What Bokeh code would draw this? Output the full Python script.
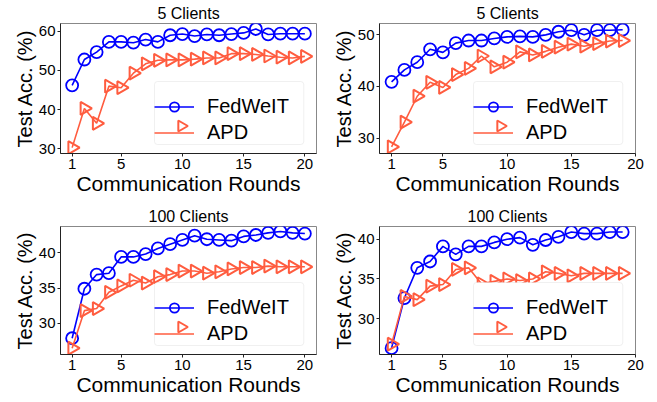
import numpy as np
from bokeh.plotting import figure
from bokeh.layouts import gridplot
from bokeh.models import Legend, LegendItem, Range1d, FixedTicker, BoxAnnotation
from bokeh.embed import file_html
from bokeh.resources import INLINE

FONT = "Liberation Sans"

# ---- data ----
rounds_20 = list(range(1, 21))
rounds_19 = list(range(1, 20))
x_ticks = [1, 5, 10, 15, 20]

titles = ["5 Clients", "5 Clients", "100 Clients", "100 Clients"]
series_names = ["FedWeIT", "APD"]

fedweit_tl = [46.2, 52.8, 54.7, 57.3, 57.3, 57.1, 57.9, 57.3, 59.0, 59.3,
              58.8, 59.2, 59.0, 59.3, 59.6, 60.6, 59.2, 59.4, 59.4, 59.4]
apd_tl = [30.3, 40.3, 36.5, 46.0, 45.6, 49.3, 51.7, 52.6, 52.7, 52.7,
          52.9, 53.2, 53.2, 54.3, 54.3, 54.1, 53.7, 53.4, 53.2, 53.6]

fedweit_tr = [40.9, 43.2, 44.7, 47.2, 46.6, 48.4, 48.9, 48.9, 49.3, 49.6,
              49.7, 49.6, 50.0, 50.6, 50.9, 50.0, 50.9, 50.9, 51.0]
apd_tr = [28.3, 33.1, 38.1, 40.8, 39.8, 42.3, 43.5, 45.9, 43.8, 44.7,
          46.7, 46.1, 46.8, 47.6, 48.2, 47.8, 48.3, 48.8, 48.9]

fedweit_bl = [27.9, 34.9, 36.9, 37.1, 39.4, 39.4, 39.8, 40.6, 41.2, 41.8,
              42.4, 41.9, 41.8, 41.7, 42.3, 42.5, 42.8, 43.0, 42.8, 42.7]
apd_bl = [26.5, 31.8, 32.1, 34.4, 35.3, 36.1, 35.7, 36.6, 36.9, 37.4,
          37.4, 37.1, 37.3, 37.7, 37.9, 37.9, 38.1, 38.0, 38.0, 38.0]

fedweit_br = [26.3, 32.6, 36.4, 37.2, 39.1, 38.1, 39.1, 39.1, 39.6, 40.0,
              40.2, 39.3, 39.9, 40.3, 40.9, 40.7, 40.7, 40.9, 40.9]
apd_br = [26.8, 32.8, 32.4, 34.1, 34.3, 36.2, 36.4, 34.4, 34.7, 35.0,
          34.8, 35.0, 35.9, 35.7, 35.4, 35.7, 35.7, 35.7, 35.7]

y_ticks_tl = [30, 40, 50, 60]
y_ticks_tr = [30, 40, 50]
y_ticks_bl = [30, 35, 40]
y_ticks_br = [30, 35, 40]

BLUE = "#0000ff"
ORANGE = "#ff5c3f"

FW = 256          # frame width (px)
LEG_X = 94        # legend left, px from frame left
LEG_Y = 9         # legend bottom, px from frame bottom
LEG_PAD = 7
LEG_GW = 40
LEG_ROW = 23
LEG_SP = 3
LEG_STAND = 13
LEG_FS = 20
LEG_W = 2 * LEG_PAD + LEG_GW + LEG_STAND + 4.112 * LEG_FS
LEG_H = 2 * LEG_PAD + 2 * LEG_ROW + LEG_SP


def make(title, x, fed, apd, xr, yr, yticks, fh, bl, br, bb):
    p = figure(frame_width=FW, frame_height=fh, output_backend="svg",
               toolbar_location=None,
               x_range=Range1d(*xr), y_range=Range1d(*yr), title=title,
               min_border_left=bl, min_border_right=br, min_border_bottom=bb,
               min_border_top=0)
    p.title.align = "center"
    p.title.text_font = FONT
    p.title.text_font_size = "16px"
    p.title.text_font_style = "normal"
    p.title.text_color = "black"
    p.title.standoff = 4
    p.xgrid.visible = False
    p.ygrid.visible = False
    p.outline_line_color = "#888888"
    p.outline_line_width = 1
    for ax in (p.xaxis[0], p.yaxis[0]):
        ax.major_label_text_font = FONT
        ax.major_label_text_font_size = "15px"
        ax.major_label_text_color = "black"
        ax.axis_label_text_font = FONT
        ax.axis_label_text_font_style = "normal"
        ax.axis_label_text_color = "black"
        ax.axis_line_color = "#222222"
        ax.major_tick_line_color = "#222222"
        ax.major_tick_in = 0
        ax.major_tick_out = 3
        ax.minor_tick_line_color = None
        ax.major_label_standoff = 2
        ax.axis_label_standoff = 0
    p.xaxis[0].ticker = FixedTicker(ticks=x_ticks)
    p.yaxis[0].ticker = FixedTicker(ticks=yticks)
    p.xaxis[0].axis_label = "Communication Rounds"
    p.xaxis[0].axis_label_text_font_size = "21px"
    p.yaxis[0].axis_label = "Test Acc. (%)"
    p.yaxis[0].axis_label_text_font_size = "20px"

    l1 = p.line(x, fed, line_color=BLUE, line_width=1.6)
    s1 = p.scatter(x, fed, marker="circle", size=12, line_color=BLUE,
                   line_width=1.8, fill_alpha=0)
    l2 = p.line(x, apd, line_color=ORANGE, line_width=1.6)
    p.scatter(x, apd, marker="triangle", size=13, angle=-np.pi / 2,
              line_color=ORANGE, line_width=2, fill_alpha=0)

    # pixel-unit ranges for the legend box and its right-pointing key
    p.extra_x_ranges = {"px": Range1d(0, FW)}
    p.extra_y_ranges = {"py": Range1d(0, fh)}
    box = BoxAnnotation(left=LEG_X, right=LEG_X + LEG_W,
                        bottom=LEG_Y, top=LEG_Y + LEG_H,
                        x_range_name="px", y_range_name="py",
                        fill_color="white", fill_alpha=1.0,
                        line_color="#cccccc", line_width=1,
                        border_radius=3, level="guide")
    p.add_layout(box)

    leg = Legend(items=[LegendItem(label=series_names[0], renderers=[l1, s1]),
                        LegendItem(label=series_names[1], renderers=[l2])],
                 location=(LEG_X, LEG_Y))
    leg.label_text_font = FONT
    leg.label_text_font_size = f"{LEG_FS}px"
    leg.label_text_color = "black"
    leg.glyph_width = LEG_GW
    leg.glyph_height = LEG_ROW
    leg.label_height = LEG_ROW
    leg.label_standoff = LEG_STAND
    leg.spacing = LEG_SP
    leg.padding = LEG_PAD
    leg.border_line_color = None
    leg.background_fill_alpha = 0.0
    p.add_layout(leg, "center")

    kx = LEG_X + LEG_PAD + LEG_GW / 2
    ky = LEG_Y + LEG_PAD + LEG_ROW / 2
    p.scatter([kx], [ky], x_range_name="px", y_range_name="py",
              marker="triangle", size=11, angle=-np.pi / 2,
              line_color=ORANGE, line_width=2, fill_alpha=0,
              level="overlay")
    return p


p1 = make(titles[0], rounds_20, fedweit_tl, apd_tl, (0.05, 20.95), (28.8, 62.0),
          y_ticks_tl, 130, 60, 12, 50)
p2 = make(titles[1], rounds_19, fedweit_tr, apd_tr, (0.06, 20.0), (27.0, 52.2),
          y_ticks_tr, 130, 51, 13, 50)
p3 = make(titles[2], rounds_20, fedweit_bl, apd_bl, (0.05, 20.95), (25.6, 43.7),
          y_ticks_bl, 128, 60, 12, 44)
p4 = make(titles[3], rounds_19, fedweit_br, apd_br, (0.06, 20.0), (25.5, 41.6),
          y_ticks_br, 128, 51, 13, 44)

grid = gridplot([[p1, p2], [p3, p4]], toolbar_location=None)
open("out.html", "w").write(file_html(grid, INLINE))
